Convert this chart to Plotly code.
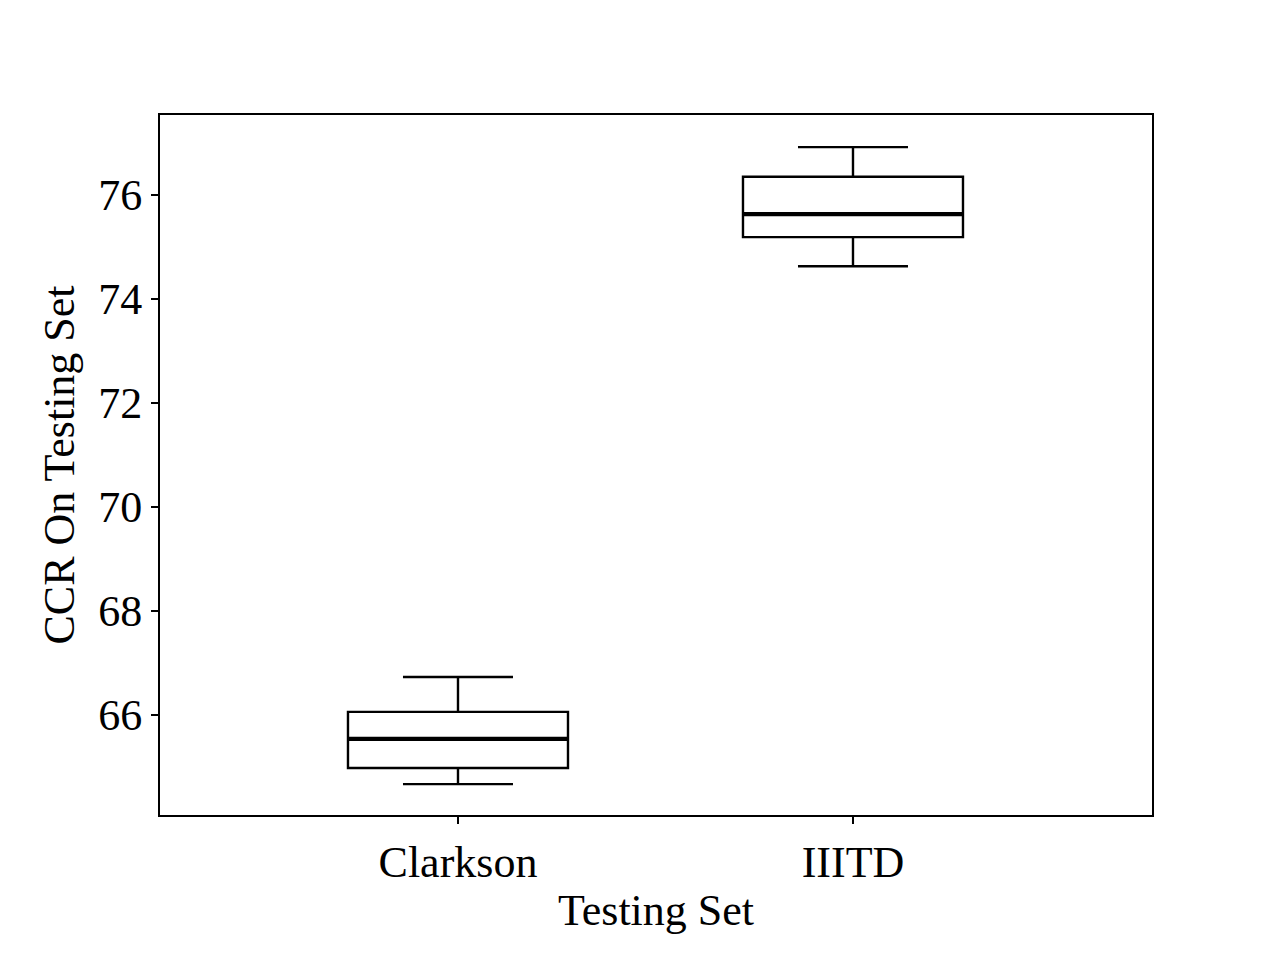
import plotly.graph_objects as go

categories = ["Clarkson", "IIITD"]
positions = [1, 2]
lower_whisker = [64.67, 74.63]
q1 = [64.98, 75.19]
median = [65.54, 75.63]
q3 = [66.06, 76.35]
upper_whisker = [66.73, 76.92]
box_width = 0.557

FONT = "Liberation Serif"
FS = 44

fig = go.Figure()
for i, cat in enumerate(categories):
    fig.add_trace(go.Box(
        x=[positions[i]], q1=[q1[i]], median=[median[i]], q3=[q3[i]],
        lowerfence=[lower_whisker[i]], upperfence=[upper_whisker[i]],
        width=box_width, whiskerwidth=0.5,
        line=dict(color="black", width=2.4),
        fillcolor="rgba(0,0,0,0)", boxpoints=False, name=cat,
        showlegend=False, hoverinfo="skip",
    ))
    fig.add_trace(go.Scatter(
        x=[positions[i] - box_width / 2, positions[i] + box_width / 2],
        y=[median[i], median[i]], mode="lines",
        line=dict(color="black", width=4.2), showlegend=False, hoverinfo="skip",
    ))

fig.update_layout(
    width=1272, height=952,
    paper_bgcolor="white", plot_bgcolor="white",
    margin=dict(l=152, r=128, t=107, b=145, autoexpand=False),
    font=dict(family=FONT, size=FS, color="black"),
    boxmode="overlay",
)
fig.update_xaxes(
    range=[0.2456, 2.757], tickvals=positions, ticktext=categories,
    showline=True, linecolor="black", linewidth=2, mirror=True,
    ticks="outside", ticklen=7, tickwidth=2, tickcolor="black",
    showgrid=False, zeroline=False,
    title=dict(text="Testing Set", font=dict(family=FONT, size=FS), standoff=8),
    tickfont=dict(family=FONT, size=FS),
)
fig.update_yaxes(
    range=[64.077, 77.538], tickvals=[66, 68, 70, 72, 74, 76],
    showline=True, linecolor="black", linewidth=2, mirror=True,
    ticks="outside", ticklen=7, tickwidth=2, tickcolor="black",
    showgrid=False, zeroline=False,
    title=dict(text="CCR On Testing Set", font=dict(family=FONT, size=FS), standoff=10),
    tickfont=dict(family=FONT, size=FS),
)

fig.write_html("out.html")
